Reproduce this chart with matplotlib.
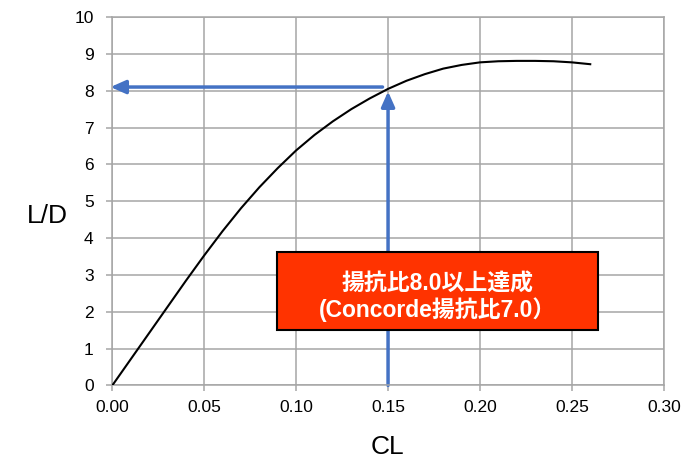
import matplotlib.pyplot as plt
from matplotlib.patches import Rectangle

plt.rcParams['font.family'] = ['Liberation Sans', 'Noto Sans CJK JP']

# curve
cl = [0.00, 0.01, 0.02, 0.03, 0.04, 0.05, 0.06, 0.07, 0.08, 0.09, 0.10, 0.11, 0.12, 0.13,
      0.14, 0.15, 0.16, 0.17, 0.18, 0.19, 0.20, 0.21, 0.22, 0.23, 0.24, 0.25, 0.26]
ld = [0.00, 0.71, 1.42, 2.13, 2.84, 3.53, 4.19, 4.81, 5.38, 5.90, 6.38, 6.80, 7.17, 7.50,
      7.79, 8.05, 8.27, 8.45, 8.60, 8.70, 8.77, 8.80, 8.81, 8.81, 8.80, 8.77, 8.72]

x_ticks = [0.00, 0.05, 0.10, 0.15, 0.20, 0.25, 0.30]
y_ticks = list(range(0, 11))

target_cl = 0.15
target_ld = 8.1
box_lines = '揚抗比8.0以上達成\n(Concorde揚抗比7.0）'

fig = plt.figure(figsize=(6.85, 4.61), dpi=100)
ax = fig.add_axes([0.164, 0.164, 0.805, 0.799])

grid_c = '#A6A6A6'
ax.set_xlim(0, 0.30)
ax.set_ylim(0, 10)
ax.set_xticks(x_ticks)
ax.set_xticklabels([f'{v:.2f}' for v in x_ticks])
ax.set_yticks(y_ticks)
ax.grid(True, color=grid_c, lw=1.1)
ax.set_axisbelow(True)
for s in ax.spines.values():
    s.set_color(grid_c)
    s.set_linewidth(1.1)
ax.tick_params(axis='both', color=grid_c, width=1.1, length=4.5, labelsize=12.5)
ax.tick_params(axis='y', pad=9)
ax.tick_params(axis='x', pad=6)

ax.plot(cl, ld, color='black', lw=1.5, zorder=3, solid_joinstyle='round')

blue = '#4472C4'
arrow = dict(arrowstyle='-|>,head_length=0.9,head_width=0.4', color=blue, lw=2.5,
             shrinkA=0, shrinkB=0)
ax.annotate('', xy=(-0.001, target_ld), xytext=(target_cl - 0.003, target_ld),
            arrowprops=arrow, annotation_clip=False, zorder=2)
ax.annotate('', xy=(target_cl, 7.98), xytext=(target_cl, 0),
            arrowprops=arrow, annotation_clip=False, zorder=2)

ax.add_patch(Rectangle((0.0898, 1.51), 0.1745, 2.10, facecolor='#FF3300',
                       edgecolor='black', lw=1.5, zorder=4))
ax.text(0.177, 2.40, box_lines, color='white', fontsize=16.5, fontweight='bold',
        ha='center', va='center', linespacing=1.1, zorder=5)

fig.text(0.069, 0.532, 'L/D', fontsize=19, ha='center', va='center')
fig.text(0.566, 0.03, 'CL', fontsize=19, ha='center', va='center')

fig.savefig('out.png', dpi=100)
